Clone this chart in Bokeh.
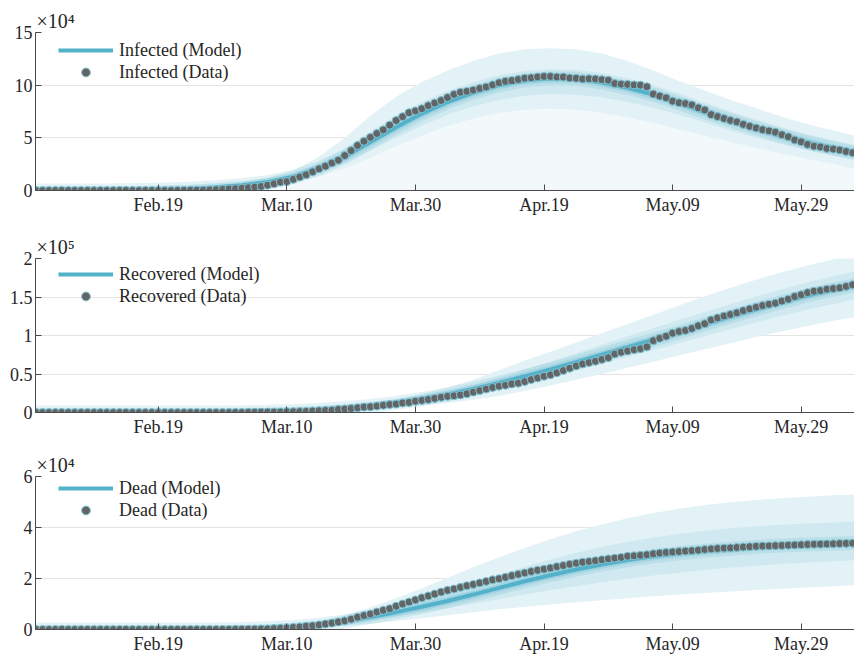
import pandas as pd
from bokeh.plotting import figure
from bokeh.layouts import column
from bokeh.models import FixedTicker, Legend, LegendItem, Range1d
from bokeh.embed import file_html
from bokeh.resources import INLINE

# ---------------- data ----------------
start_date = "2020-01-31"
tick_dates = ["2020-02-19", "2020-03-10", "2020-03-30", "2020-04-19", "2020-05-09", "2020-05-29"]
tick_labels = ["Feb.19", "Mar.10", "Mar.30", "Apr.19", "May.09", "May.29"]

infected_data = [2, 2, 2, 2, 2, 2, 2, 3, 3, 3, 3, 3, 3, 3, 3, 3, 3, 3, 3, 3, 3,
                 20, 79, 150, 221, 311, 385, 588, 821, 1049,
                 1577, 1835, 2263, 2706, 3296, 3916, 5061, 6387, 7985, 8514,
                 10590, 12839, 14955, 17750, 20603, 23073, 26062, 28710, 33190, 37860,
                 42681, 46638, 50418, 54030, 57521, 62013, 66414, 70065, 73880, 75528,
                 77635, 80572, 83049, 85388, 88274, 91246, 93187, 94067, 95262, 96877,
                 98273, 100269, 102253, 103616, 104291, 105418, 106607, 106962, 107771, 108257,
                 108237, 107709, 107699, 106848, 106527, 105847, 106103, 105813, 105205, 104657,
                 101551, 100943, 100704, 100179, 99980, 98467, 91528, 89624, 87961, 84842,
                 83324, 82488, 81266, 78457, 76440, 72070, 70187, 68351, 66553, 65129,
                 62752, 60960, 59322, 57752, 56594, 55300, 52942, 50966, 47986, 46175,
                 43691, 42075, 41367, 39893, 39297, 38429, 36976, 35877]

recovered_data = [0] * 24 + [1, 1, 3, 45, 46, 50,
                  83, 149, 160, 276, 414, 523, 589, 622, 724, 1004,
                  1045, 1258, 1439, 1966, 2335, 2749, 2941, 4025, 4440, 5129,
                  6072, 7024, 7432, 8326, 9362, 10361, 10950, 12384, 13030, 14620,
                  15729, 16847, 18278, 19758, 20996, 21815, 22837, 24392, 26491, 28470,
                  30455, 32534, 34211, 35435, 37130, 38092, 40164, 42727, 44927, 47055,
                  48877, 51600, 54543, 57576, 60498, 63120, 64928, 66624, 68941, 71252,
                  75945, 78249, 79914, 81654, 82879, 85231, 93245, 96276, 99023, 103031,
                  105186, 106587, 109039, 112541, 115288, 120205, 122810, 125176, 127326, 129401,
                  132282, 134560, 136720, 138840, 140479, 141981, 144658, 147101, 150604, 152844,
                  155633, 157507, 158355, 160092, 160938, 161895, 163781, 165837]

dead_data = [0] * 21 + [1, 2, 3, 7, 10, 12, 17, 21, 29,
             34, 52, 79, 107, 148, 197, 233, 366, 463, 631,
             827, 1016, 1266, 1441, 1809, 2158, 2503, 2978, 3405, 4032,
             4825, 5476, 6077, 6820, 7503, 8165, 9134, 10023, 10779, 11591,
             12428, 13155, 13915, 14681, 15362, 15887, 16523, 17127, 17669, 18279,
             18849, 19468, 19899, 20465, 21067, 21645, 22170, 22745, 23227, 23660,
             24114, 24648, 25085, 25549, 25969, 26384, 26644, 26977, 27359, 27682,
             27967, 28236, 28710, 28884, 29079, 29315, 29684, 29958, 30201, 30395,
             30560, 30739, 30911, 31106, 31368, 31610, 31763, 31908, 32007, 32169,
             32330, 32486, 32616, 32735, 32785, 32877, 32955, 33072, 33142, 33229,
             33340, 33415, 33475, 33530, 33601, 33689, 33774, 33846]

model_days = [0, 4, 8, 12, 16, 20, 24, 28, 32, 36, 40, 44, 48, 52, 56, 60, 64,
              68, 72, 76, 80, 84, 88, 92, 96, 100, 104, 108, 112, 116, 120, 124, 128]

infected_model = [0, 0, 100, 200, 400, 900, 1700, 3000, 5000, 8000, 13000, 21000, 32000, 46000, 60000, 73000,
                  84000, 93000, 100000, 104500, 106500, 106000, 102500, 97500, 91000, 83000, 74500, 66500,
                  59000, 52000, 45500, 40000, 35000]
infected_hi = [0, 0, 200, 400, 800, 1500, 2800, 4800, 7500, 12000, 19000, 32000, 50000, 71000, 89000, 103000,
               114000, 123000, 130000, 134000, 135000, 134000, 130000, 123000, 114000, 104000, 95000, 86000,
               78000, 70000, 63000, 57000, 51000]
infected_lo = [0, 0, 0, 0, 100, 300, 600, 1200, 2200, 4000, 7000, 13000, 21000, 31000, 42000, 52000,
               61000, 68000, 73500, 76500, 77500, 76500, 73500, 69000, 64000, 58000, 52000, 46000,
               40000, 35000, 30000, 25000, 20000]
infected_mid_hi = [0, 0, 150, 300, 550, 1100, 2100, 3700, 6000, 9500, 15500, 26000, 40000, 56000, 71000, 84000,
                   94500, 103000, 109500, 113500, 115000, 114500, 111500, 106500, 100000, 92000, 83500, 75000,
                   67500, 60000, 53500, 47500, 42500]
infected_mid_lo = [0, 0, 50, 100, 250, 650, 1200, 2200, 3800, 6000, 10000, 16500, 26000, 38000, 50000, 61500,
                   72000, 80000, 86000, 90000, 91500, 91000, 88500, 84000, 78500, 72000, 64500, 57000,
                   50000, 44000, 38000, 33000, 28500]

recovered_model = [0, 0, 0, 0, 0, 0, 50, 150, 400, 900, 1800, 3200, 5500, 8500, 12500, 17500,
                   23500, 30500, 38500, 47000, 56000, 65500, 75000, 85000, 94500, 104000, 114500, 124500,
                   134000, 143500, 152000, 159500, 166500]
recovered_hi = [0, 0, 0, 0, 0, 0, 100, 300, 700, 1500, 3000, 5500, 9500, 13000, 17000, 24000,
                32500, 42500, 55000, 67500, 79000, 91000, 103000, 115000, 127000, 139000, 151000, 162000,
                172500, 182000, 191000, 199000, 206000]
recovered_lo = [0, 0, 0, 0, 0, 0, 0, 50, 150, 400, 900, 1600, 2700, 4200, 6300, 9000,
                12500, 16500, 21500, 28000, 35000, 42500, 50000, 58000, 66000, 74000, 82000, 90000,
                98000, 105500, 112500, 119000, 125000]
recovered_mid_hi = [0, 0, 0, 0, 0, 0, 70, 200, 500, 1100, 2200, 4000, 6800, 10500, 14000, 20000,
                    27500, 36000, 45500, 56000, 66000, 77000, 88000, 99000, 109500, 120000, 130500, 140500,
                    150500, 160000, 169000, 177000, 184500]
recovered_mid_lo = [0, 0, 0, 0, 0, 0, 20, 100, 250, 700, 1400, 2500, 4300, 6700, 9800, 13800,
                    18500, 24000, 30500, 38000, 46000, 54500, 63000, 72000, 81000, 90000, 99000, 108000,
                    117000, 125500, 133500, 141000, 148000]

dead_model = [0, 0, 0, 0, 0, 0, 30, 80, 200, 450, 1000, 1900, 3200, 4900, 6800, 8900,
              11200, 13700, 16300, 18900, 21300, 23500, 25500, 27200, 28700, 29900, 30900, 31700,
              32400, 32900, 33300, 33650, 33950]
dead_hi = [0, 0, 0, 0, 0, 0, 60, 150, 350, 800, 1700, 3300, 5600, 8700, 12300, 16200,
           20300, 24400, 28300, 32000, 35400, 38500, 41200, 43600, 45700, 47400, 48800, 49900,
           50800, 51500, 52100, 52600, 53000]
dead_lo = [0, 0, 0, 0, 0, 0, 10, 30, 80, 200, 500, 900, 1500, 2300, 3300, 4400,
           5600, 6800, 7900, 8900, 9800, 10700, 11500, 12300, 13000, 13700, 14300, 14900,
           15500, 16000, 16500, 17000, 17400]
dead_mid_hi = [0, 0, 0, 0, 0, 0, 45, 120, 300, 600, 1300, 2500, 4200, 6500, 9100, 12000,
               15100, 18300, 21500, 24600, 27500, 30100, 32400, 34400, 36100, 37500, 38700, 39700,
               40500, 41100, 41600, 42000, 42400]
dead_mid_lo = [0, 0, 0, 0, 0, 0, 20, 50, 130, 300, 750, 1400, 2400, 3600, 5000, 6600,
               8300, 10100, 11900, 13700, 15400, 17000, 18500, 19900, 21200, 22300, 23300, 24200,
               25000, 25700, 26300, 26800, 27200]

infected_yticks = [0, 50000, 100000, 150000]
infected_ylabels = ["0", "5", "10", "15"]
recovered_yticks = [0, 50000, 100000, 150000, 200000]
recovered_ylabels = ["0", "0.5", "1", "1.5", "2"]
dead_yticks = [0, 20000, 40000, 60000]
dead_ylabels = ["0", "2", "4", "6"]

# --------------- styling ---------------
FONT = "Liberation Serif"
FS = "18px"
TXT = "#262626"
AX = "#4a4a4a"
LINE = "#53b1c9"
OUTER = "#e3f2f6"
MID = "#d0e9f0"
FLOOR = "#f3f8fa"
DOT = "#646464"
DOT_EDGE = "#7cc6d8"

t0 = pd.Timestamp(start_date)
tick_days = [(pd.Timestamp(d) - t0).days for d in tick_dates]

for arr in [infected_model, infected_hi, infected_lo, infected_mid_hi, infected_mid_lo,
            recovered_model, recovered_hi, recovered_lo, recovered_mid_hi, recovered_mid_lo,
            dead_model, dead_hi, dead_lo, dead_mid_hi, dead_mid_lo]:
    assert len(arr) == len(model_days), len(arr)
for arr in [infected_data, recovered_data, dead_data]:
    assert len(arr) == 128, len(arr)

W = 854


def panel(name, data, model, lo, hi, mlo, mhi, ymax, yticks, ylabels, exp,
          top, frame_h, bottom, floor=False):
    p = figure(width=W, height=top + frame_h + bottom, output_backend="svg",
               toolbar_location=None, x_range=Range1d(-0.1, 127.3),
               y_range=Range1d(0, ymax), min_border=0,
               min_border_left=35, min_border_right=0,
               min_border_top=top, min_border_bottom=bottom,
               background_fill_color="white", border_fill_color="white",
               outline_line_color=None)
    days = list(range(len(data)))
    if floor:
        p.varea(x=model_days, y1=[0] * len(lo), y2=lo, fill_color=FLOOR)
    p.varea(x=model_days, y1=lo, y2=hi, fill_color=OUTER)
    p.varea(x=model_days, y1=mlo, y2=mhi, fill_color=MID)
    p.line(model_days, model, line_width=14, line_color=LINE, line_alpha=0.16)
    p.line(model_days, model, line_width=8, line_color=LINE, line_alpha=0.25)
    ln = p.line(model_days, model, line_width=4, line_color=LINE)
    sc = p.scatter(days, data, size=8, fill_color=DOT, line_color=DOT_EDGE, line_width=1)

    # axes
    p.xaxis.ticker = FixedTicker(ticks=tick_days)
    p.xaxis.major_label_overrides = {d: l for d, l in zip(tick_days, tick_labels)}
    p.yaxis.ticker = FixedTicker(ticks=yticks)
    p.yaxis.major_label_overrides = {t: l for t, l in zip(yticks, ylabels)}
    for ax in [p.xaxis[0], p.yaxis[0]]:
        ax.axis_line_color = AX
        ax.major_tick_line_color = AX
        ax.major_tick_in = 6
        ax.major_tick_out = 0
        ax.minor_tick_line_color = None
        ax.major_label_text_font = FONT
        ax.major_label_text_font_size = FS
        ax.major_label_text_color = TXT
    p.xaxis.major_label_standoff = 4
    p.yaxis.major_label_standoff = 3
    p.xgrid.grid_line_color = None
    p.ygrid.grid_line_color = "#e4e4e4"
    p.ygrid.grid_line_width = 1

    # exponent (multiplier) shown above the y axis
    p.title.text = "×10" + exp
    p.title.align = "left"
    p.title.offset = 1
    p.title.standoff = 2
    p.title.text_font = FONT
    p.title.text_font_size = "20px"
    p.title.text_font_style = "normal"
    p.title.text_color = TXT

    leg = Legend(items=[LegendItem(label=f"{name} (Model)", renderers=[ln]),
                        LegendItem(label=f"{name} (Data)", renderers=[sc])],
                 location=(23, frame_h - 7 - 44), orientation="vertical",
                 background_fill_alpha=0, border_line_color=None,
                 label_text_font=FONT, label_text_font_size=FS,
                 label_text_color=TXT, glyph_width=55, glyph_height=22,
                 label_height=22, label_standoff=6, spacing=0, padding=0, margin=0)
    p.add_layout(leg)
    return p


p1 = panel("Infected", infected_data, infected_model, infected_lo, infected_hi,
           infected_mid_lo, infected_mid_hi, 150000, infected_yticks, infected_ylabels, "⁴",
           top=32, frame_h=158, bottom=42, floor=True)
p2 = panel("Recovered", recovered_data, recovered_model, recovered_lo, recovered_hi,
           recovered_mid_lo, recovered_mid_hi, 200000, recovered_yticks, recovered_ylabels, "⁵",
           top=24, frame_h=156, bottom=38)
p3 = panel("Dead", dead_data, dead_model, dead_lo, dead_hi,
           dead_mid_lo, dead_mid_hi, 60000, dead_yticks, dead_ylabels, "⁴",
           top=24, frame_h=159, bottom=23)

layout = column(p1, p2, p3, spacing=0)
open("out.html", "w").write(file_html(layout, INLINE))
